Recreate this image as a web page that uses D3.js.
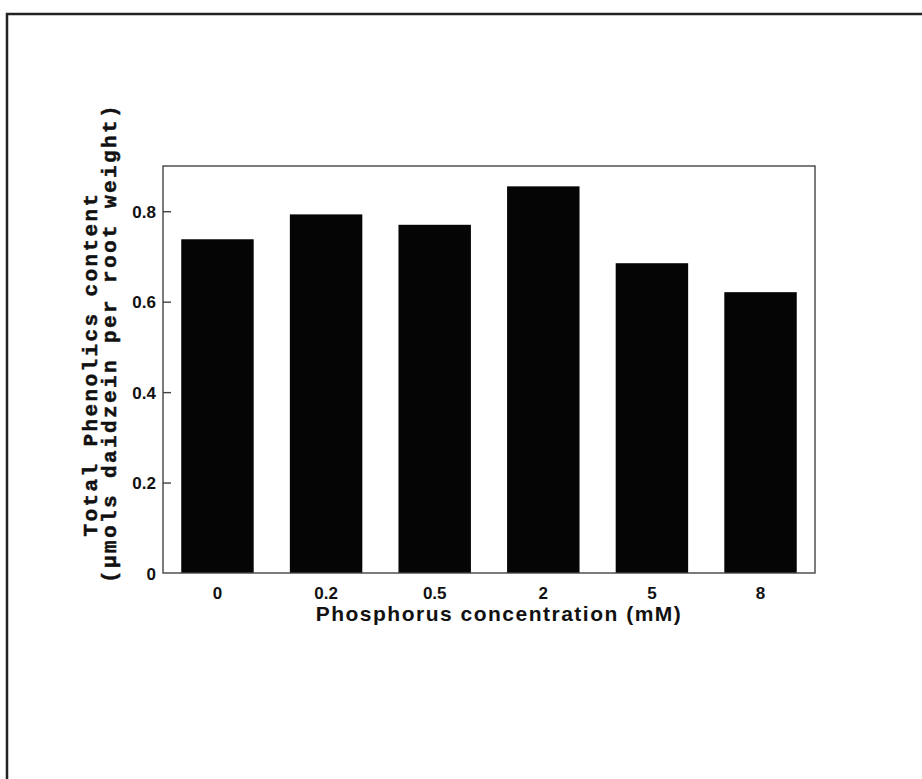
<!DOCTYPE html>
<html>
    <head>
        <script src="https://cdn.jsdelivr.net/npm/d3@7"></script>
        <style>
            html, body { margin: 0; padding: 0; background: #fff; overflow: hidden; }
            svg { display: block; }
        </style>
    </head>
    <body>
        <svg id="chart" width="922" height="779"></svg>
        <script>
            // Data
            var concentrations = ["0", "0.2", "0.5", "2", "5", "8"];
            var phenolics = [0.738, 0.793, 0.770, 0.855, 0.685, 0.621];
            var yTicks = [0, 0.2, 0.4, 0.6, 0.8];

            var margin = {left: 163, right: 107, top: 166, bottom: 206};
            var width = 922 - margin.left - margin.right;
            var height = 779 - margin.top - margin.bottom;

            var root = d3.select("svg#chart");

            // page border (top and left only)
            root.append("path").attr("d", "M7,779 V14 H922")
                .attr("fill", "none").attr("stroke", "#222").attr("stroke-width", 2.5);

            var svg = root.append("g").attr("transform", "translate(" + margin.left + "," + margin.top + ")");

            var x = d3.scaleBand().domain(concentrations).range([0, width]).paddingInner(0.333).paddingOuter(0.168);
            var y = d3.scaleLinear().domain([0, 0.9]).range([height, 0]);

            // Bars
            svg.selectAll("rect.bar").data(phenolics).enter().append("rect")
                .attr("class", "bar")
                .attr("x", function(d, i) { return x(concentrations[i]); })
                .attr("y", function(d) { return y(d); })
                .attr("width", x.bandwidth())
                .attr("height", function(d) { return height - y(d); })
                .attr("fill", "#050505");

            // frame
            svg.append("rect").attr("width", width).attr("height", height)
                .attr("fill", "none").attr("stroke", "#444").attr("stroke-width", 1.4);

            var sans = "Liberation Sans, Arial, sans-serif";

            // Axes
            var yAxis = d3.axisLeft(y).tickValues(yTicks).tickSizeInner(-8).tickSizeOuter(0).tickPadding(7)
                .tickFormat(function(d) { return d === 0 ? "0" : d3.format(".1f")(d); });
            var gy = svg.append("g").call(yAxis);
            gy.select(".domain").remove();
            gy.selectAll(".tick line").attr("stroke", "#444").attr("stroke-width", 1.4)
                .filter(function(d) { return d === 0; }).remove();
            gy.selectAll("text").style("font-family", sans).attr("dy", "0.36em")
                .style("font-weight", "bold").style("font-size", "17px").attr("fill", "#111");

            var xAxis = d3.axisBottom(x).tickSize(0).tickPadding(14);
            var gx = svg.append("g").attr("transform", "translate(0," + height + ")").call(xAxis);
            gx.select(".domain").remove();
            gx.selectAll("text").style("font-family", sans)
                .style("font-weight", "bold").style("font-size", "17px").attr("fill", "#111");

            // Axis titles
            svg.append("text").attr("x", width / 2 + 10).attr("y", height + 48)
                .attr("text-anchor", "middle").attr("fill", "#111")
                .style("font-family", sans).style("font-weight", "bold").style("font-size", "21px").style("letter-spacing", "1.5px")
                .text("Phosphorus concentration (mM)");

            var ylab = svg.append("text").attr("transform", "rotate(-90)")
                .attr("text-anchor", "middle").attr("fill", "#111")
                .attr("stroke", "#111").attr("stroke-width", 0.5)
                .style("font-family", "Liberation Mono, Courier New, monospace").style("font-weight", "bold")
                .style("font-size", "21px").style("letter-spacing", "2.4px");
            ylab.append("tspan").attr("x", -198).attr("y", -66).text("Total Phenolics content");
            ylab.append("tspan").attr("x", -177).attr("y", -47).text("(\u03bcmols daidzein per root weight)");
        </script>
    </body>
</html>
